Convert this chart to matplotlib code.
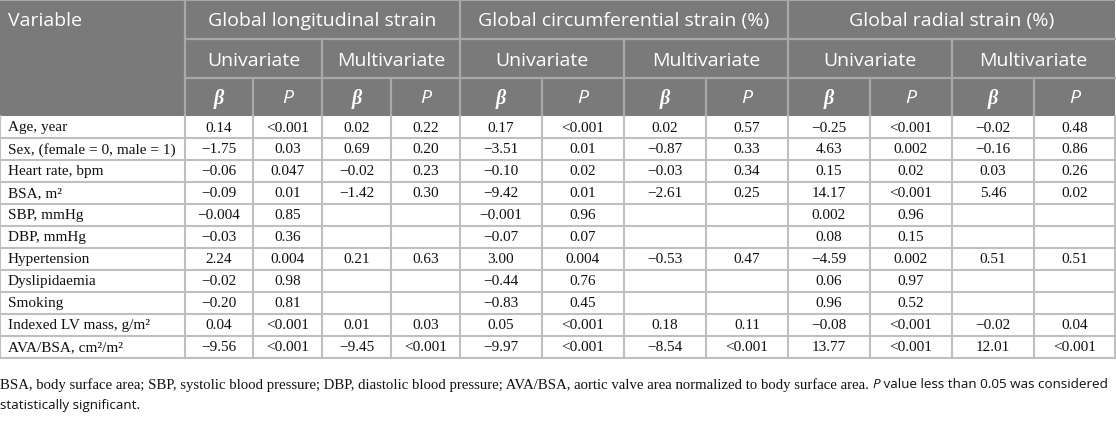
import matplotlib.pyplot as plt
from matplotlib.patches import Rectangle

# table data
variables = ["Age, year", "Sex, (female = 0, male = 1)", "Heart rate, bpm", "BSA, m²",
             "SBP, mmHg", "DBP, mmHg", "Hypertension", "Dyslipidaemia", "Smoking",
             "Indexed LV mass, g/m²", "AVA/BSA, cm²/m²"]

gls_uni_b = ["0.14", "−1.75", "−0.06", "−0.09", "−0.004", "−0.03", "2.24", "−0.02", "−0.20", "0.04", "−9.56"]
gls_uni_p = ["<0.001", "0.03", "0.047", "0.01", "0.85", "0.36", "0.004", "0.98", "0.81", "<0.001", "<0.001"]
gls_mul_b = ["0.02", "0.69", "−0.02", "−1.42", "", "", "0.21", "", "", "0.01", "−9.45"]
gls_mul_p = ["0.22", "0.20", "0.23", "0.30", "", "", "0.63", "", "", "0.03", "<0.001"]

gcs_uni_b = ["0.17", "−3.51", "−0.10", "−9.42", "−0.001", "−0.07", "3.00", "−0.44", "−0.83", "0.05", "−9.97"]
gcs_uni_p = ["<0.001", "0.01", "0.02", "0.01", "0.96", "0.07", "0.004", "0.76", "0.45", "<0.001", "<0.001"]
gcs_mul_b = ["0.02", "−0.87", "−0.03", "−2.61", "", "", "−0.53", "", "", "0.18", "−8.54"]
gcs_mul_p = ["0.57", "0.33", "0.34", "0.25", "", "", "0.47", "", "", "0.11", "<0.001"]

grs_uni_b = ["−0.25", "4.63", "0.15", "14.17", "0.002", "0.08", "−4.59", "0.06", "0.96", "−0.08", "13.77"]
grs_uni_p = ["<0.001", "0.002", "0.02", "<0.001", "0.96", "0.15", "0.002", "0.97", "0.52", "<0.001", "<0.001"]
grs_mul_b = ["−0.02", "−0.16", "0.03", "5.46", "", "", "0.51", "", "", "−0.02", "12.01"]
grs_mul_p = ["0.48", "0.86", "0.26", "0.02", "", "", "0.51", "", "", "0.04", "<0.001"]

groups = ["Global longitudinal strain", "Global circumferential strain (%)", "Global radial strain (%)"]
subgroups = ["Univariate", "Multivariate"]

columns = [gls_uni_b, gls_uni_p, gls_mul_b, gls_mul_p,
           gcs_uni_b, gcs_uni_p, gcs_mul_b, gcs_mul_p,
           grs_uni_b, grs_uni_p, grs_mul_b, grs_mul_p]

footer1 = ("BSA, body surface area; SBP, systolic blood pressure; DBP, diastolic blood pressure; "
           "AVA/BSA, aortic valve area normalized to body surface area.")
footer2 = " value less than 0.05 was considered"
footer3 = "statistically significant."

W, H = 1116, 435
col_x = [0, 185, 253, 322, 391, 460, 542, 624, 706, 788, 870, 952, 1034, 1115]
head_y = [0, 40, 79, 117]
row_h = 22
head_bg = "#7a7a7a"
head_line = "#a8a8a8"
grid = "#bfbfbf"
sans = "Open Sans"
serif = "Liberation Serif"
hsize = 14
dsize = 11
fsize = 10.6

fig = plt.figure(figsize=(W / 100, H / 100), dpi=100)
ax = fig.add_axes([0, 0, 1, 1])
ax.set_xlim(0, W)
ax.set_ylim(H, 0)
ax.axis("off")

# header background
ax.add_patch(Rectangle((0, 0), W - 1, head_y[3], facecolor=head_bg, edgecolor="none"))

# header lines
ax.plot([0, W - 1], [0.8, 0.8], color=head_line, lw=1.5)
ax.plot([col_x[1], W - 1], [head_y[1], head_y[1]], color=head_line, lw=1.6)
ax.plot([col_x[1], W - 1], [head_y[2], head_y[2]], color=head_line, lw=1.6)
for i, x in enumerate(col_x[1:-1], start=1):
    if (i - 1) % 4 == 0:
        y0 = head_y[0]
    elif (i - 1) % 2 == 0:
        y0 = head_y[1]
    else:
        y0 = head_y[2]
    ax.plot([x, x], [y0, head_y[3]], color=head_line, lw=1.6)

ax.text(8, (head_y[0] + head_y[1]) / 2 + 1, "Variable", color="white", fontsize=hsize,
        family=sans, ha="left", va="center")
for g, name in enumerate(groups):
    xc = (col_x[1 + 4 * g] + col_x[5 + 4 * g]) / 2
    ax.text(xc, (head_y[0] + head_y[1]) / 2 + 1, name, color="white", fontsize=hsize,
            family=sans, ha="center", va="center")
    for s, sub in enumerate(subgroups):
        xs = (col_x[1 + 4 * g + 2 * s] + col_x[3 + 4 * g + 2 * s]) / 2
        ax.text(xs, (head_y[1] + head_y[2]) / 2 + 1, sub, color="white", fontsize=hsize,
                family=sans, ha="center", va="center")
for c in range(12):
    xc = (col_x[1 + c] + col_x[2 + c]) / 2
    yc = (head_y[2] + head_y[3]) / 2
    if c % 2 == 0:
        ax.text(xc, yc + 1, "β", color="white", fontsize=14.5, family=serif,
                style="italic", weight="bold", ha="center", va="center")
    else:
        ax.text(xc, yc, "P", color="white", fontsize=hsize, family=sans,
                style="italic", ha="center", va="center")

# body
top = head_y[3]
bottom = top + row_h * len(variables)
for r, name in enumerate(variables):
    yc = top + row_h * (r + 0.5)
    ax.text(8, yc, name, fontsize=dsize, family=serif, ha="left", va="center", color="#111111")
    for c, col in enumerate(columns):
        xc = (col_x[1 + c] + col_x[2 + c]) / 2
        ax.text(xc, yc, col[r], fontsize=dsize, family=serif, ha="center", va="center",
                color="#111111")
    ax.plot([0, W - 1], [top + row_h * (r + 1)] * 2, color=grid, lw=1.5)
for x in col_x:
    ax.plot([x, x], [top, bottom], color=grid, lw=1.5)

# footer: serif part, then sans part fitted to end near the right edge
fig.canvas.draw()
rend = fig.canvas.get_renderer()
inv = ax.transData.inverted()
t1 = ax.text(0, 385, footer1, fontsize=fsize, family=serif, ha="left", va="center", color="#111111")
x1 = inv.transform(t1.get_window_extent(rend))[1][0] + 4
ssize = fsize
for _ in range(4):
    t2 = ax.text(x1, 385, "P", fontsize=ssize, family=sans, style="italic", ha="left",
                 va="center", color="#111111")
    x2 = inv.transform(t2.get_window_extent(rend))[1][0]
    t3 = ax.text(x2, 385, footer2, fontsize=ssize, family=sans, ha="left", va="center",
                 color="#111111")
    x3 = inv.transform(t3.get_window_extent(rend))[1][0]
    if x3 <= 1111:
        break
    t2.remove()
    t3.remove()
    ssize *= (1110 - x1) / (x3 - x1)
ax.text(0, 406, footer3, fontsize=ssize, family=sans, ha="left", va="center", color="#111111")

fig.savefig("out.png", dpi=100)
